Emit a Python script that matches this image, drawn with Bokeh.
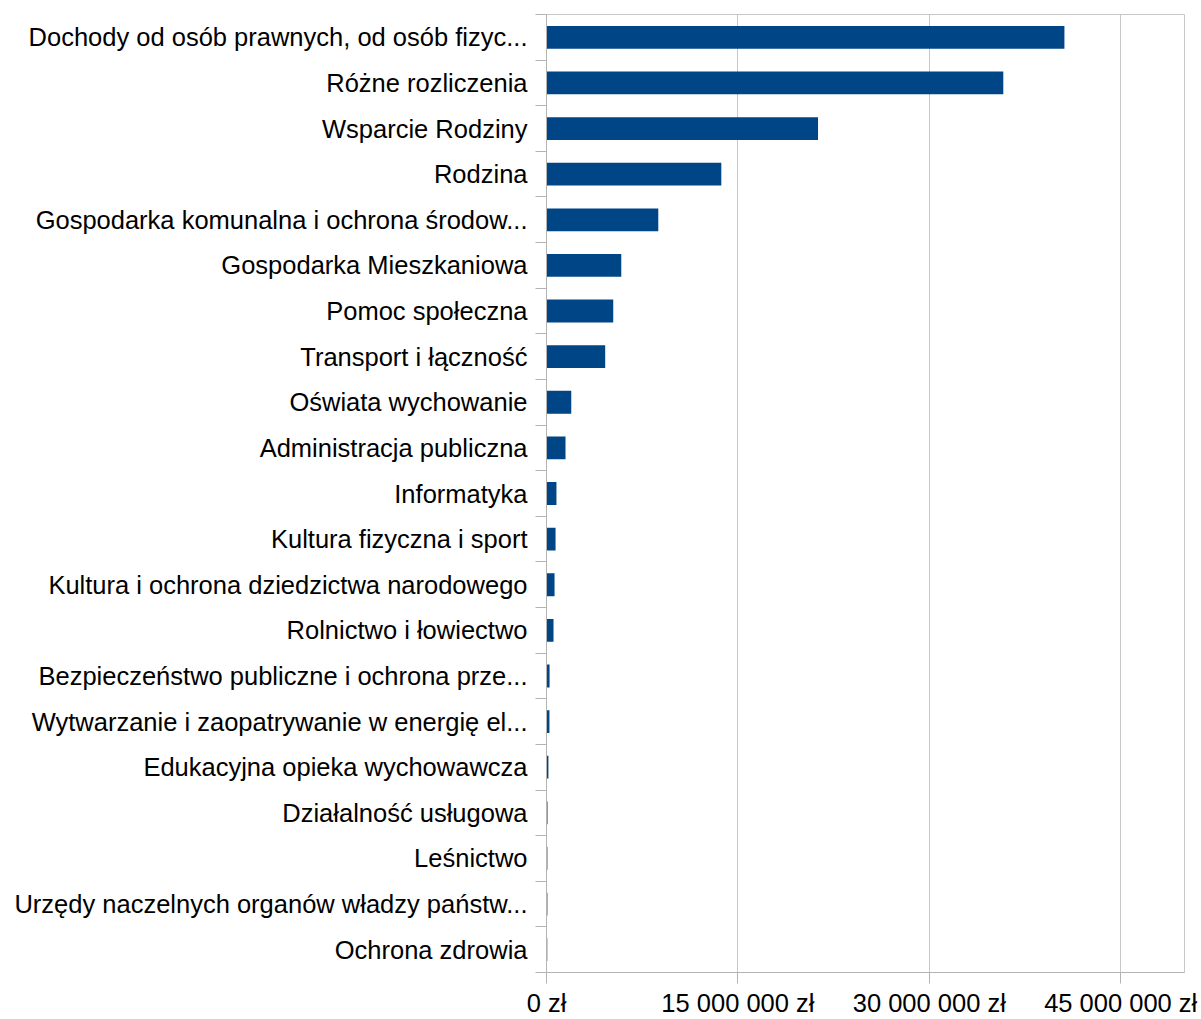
from bokeh.plotting import figure
from bokeh.models import Range1d, FixedTicker, ColumnDataSource
from bokeh.embed import file_html
from bokeh.resources import INLINE

categories = [
    "Dochody od osób prawnych, od osób fizyc...",
    "Różne rozliczenia",
    "Wsparcie Rodziny",
    "Rodzina",
    "Gospodarka komunalna i ochrona środow...",
    "Gospodarka Mieszkaniowa",
    "Pomoc społeczna",
    "Transport i łączność",
    "Oświata wychowanie",
    "Administracja publiczna",
    "Informatyka",
    "Kultura fizyczna i sport",
    "Kultura i ochrona dziedzictwa narodowego",
    "Rolnictwo i łowiectwo",
    "Bezpieczeństwo publiczne i ochrona prze...",
    "Wytwarzanie i zaopatrywanie w energię el...",
    "Edukacyjna opieka wychowawcza",
    "Działalność usługowa",
    "Leśnictwo",
    "Urzędy naczelnych organów władzy państw...",
    "Ochrona zdrowia",
]
values = [
    40590000, 35800000, 21280000, 13700000, 8760000, 5860000, 5230000,
    4600000, 1940000, 1490000, 780000, 710000, 630000, 550000, 240000,
    230000, 150000, 80000, 70000, 70000, 60000,
]
x_ticks = [0, 15000000, 30000000, 45000000]
x_tick_labels = ["0 zł", "15 000 000 zł", "30 000 000 zł", "45 000 000 zł"]
x_max = 50000000

n = len(categories)
pos = list(range(n))
src = ColumnDataSource(dict(y=pos, v=values, cat=categories))

p = figure(width=1200, height=1019, output_backend="svg", toolbar_location=None,
           x_range=Range1d(0, x_max), y_range=Range1d(n - 0.5, -0.5),
           min_border_left=546, min_border_top=14, min_border_right=16,
           min_border_bottom=47)
p.background_fill_color = "white"
p.border_fill_color = "white"
p.outline_line_color = "#c8c8c8"
p.outline_line_width = 1

p.hbar(y="y", left=0, right="v", height=0.5, source=src,
       fill_color="#004586", line_color=None)

# y axis: labels at centers, ticks at boundaries
p.yaxis.ticker = FixedTicker(ticks=pos, minor_ticks=[i - 0.5 for i in range(n + 1)])
p.yaxis.major_label_overrides = {i: c for i, c in zip(pos, categories)}
p.yaxis.major_tick_out = 0
p.yaxis.major_tick_in = 0
p.yaxis.minor_tick_out = 11
p.yaxis.minor_tick_in = 0
p.yaxis.minor_tick_line_color = "#b3b3b3"
p.yaxis.axis_line_color = "#b3b3b3"
p.yaxis.major_label_text_font = "Liberation Sans"
p.yaxis.major_label_text_font_size = "25.5px"
p.yaxis.major_label_text_color = "#000000"
p.yaxis.major_label_standoff = 8
p.ygrid.grid_line_color = None

p.xaxis.ticker = FixedTicker(ticks=x_ticks, minor_ticks=[])
p.xaxis.major_label_overrides = {t: l for t, l in zip(x_ticks, x_tick_labels)}
p.xaxis.major_tick_out = 11
p.xaxis.major_tick_in = 0
p.xaxis.major_tick_line_color = "#b3b3b3"
p.xaxis.axis_line_color = "#b3b3b3"
p.xaxis.major_label_text_font = "Liberation Sans"
p.xaxis.major_label_text_font_size = "25.5px"
p.xaxis.major_label_text_color = "#000000"
p.xaxis.major_label_standoff = 5
p.xgrid.grid_line_color = "#c8c8c8"

open("out.html", "w").write(file_html(p, INLINE))
